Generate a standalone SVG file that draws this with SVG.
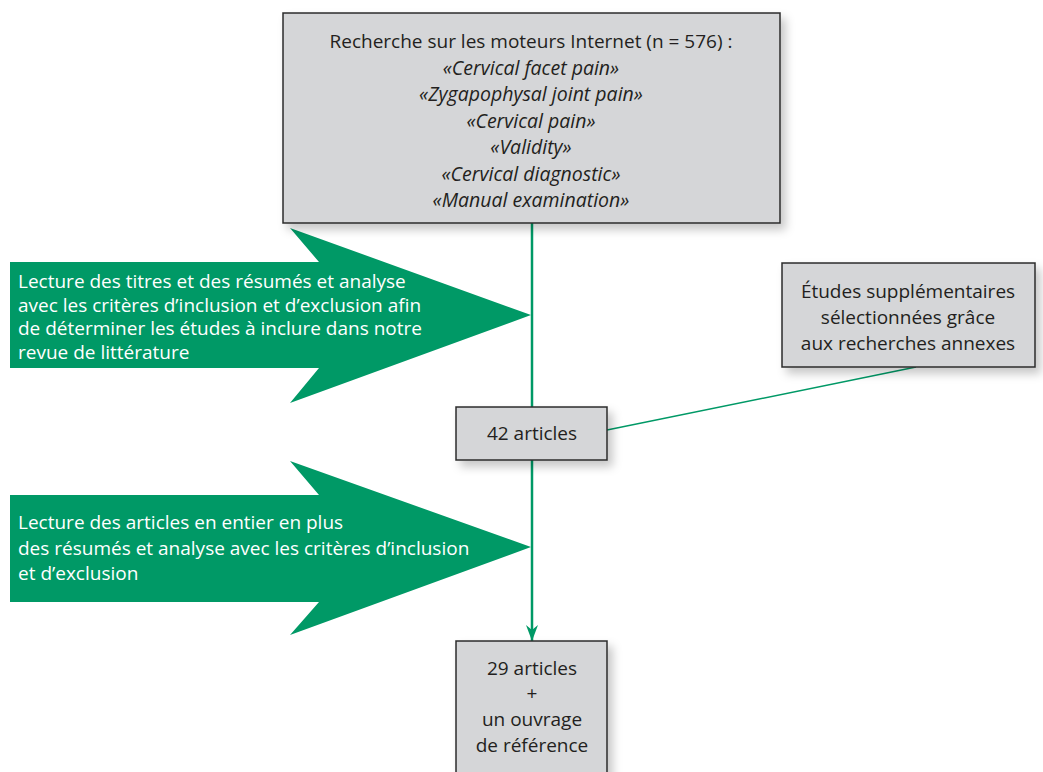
<svg xmlns="http://www.w3.org/2000/svg" width="1043" height="772" viewBox="0 0 1043 772">
<defs>
<style>
.box{fill:#d5d6d8;stroke:#2b2b2b;stroke-width:1.5;filter:url(#sh)}
.t{font-family:"Open Sans","Liberation Sans",sans-serif;font-size:19px;fill:#231f20;text-anchor:middle}
.i{font-style:italic;font-size:19.5px}
.w{font-family:"Open Sans","Liberation Sans",sans-serif;font-size:19px;fill:#ffffff}
.big{fill:#009966}
.con{stroke:#009966;fill:none}
</style>
<filter id="sh" x="-10%" y="-10%" width="130%" height="140%">
<feDropShadow dx="5" dy="6" stdDeviation="5" flood-color="#000" flood-opacity="0.22"/>
</filter>
<marker id="ah" viewBox="0 0 16 12" refX="16" refY="6" markerWidth="16" markerHeight="12" markerUnits="userSpaceOnUse" orient="auto">
<path d="M0,0 L16,6 L0,12 L5,6 Z" fill="#009966"/>
</marker>
</defs>
<g id="arrow1">
<path class="big" d="M10,262 L319,262 L290,228 L531,315 L290,403 L319,368 L10,368 Z"/>
<text class="w" x="18" y="288">Lecture des titres et des résumés et analyse</text>
<text class="w" x="18" y="311.5">avec les critères d’inclusion et d’exclusion afin</text>
<text class="w" x="18" y="335">de déterminer les études à inclure dans notre</text>
<text class="w" x="18" y="358.5">revue de littérature</text>
</g>
<g id="arrow2">
<path class="big" d="M10,495 L319,495 L290,461 L531,547 L290,635 L319,602 L10,602 Z"/>
<text class="w" x="18" y="529">Lecture des articles en entier en plus</text>
<text class="w" x="18" y="554.5">des résumés et analyse avec les critères d’inclusion</text>
<text class="w" x="18" y="580">et d’exclusion</text>
</g>
<g id="connectors">
<line class="con" x1="532" y1="223" x2="532" y2="407" stroke-width="2.5"/>
<line class="con" x1="532" y1="460" x2="532" y2="641" stroke-width="2.5" marker-end="url(#ah)"/>
<line class="con" x1="607" y1="430" x2="916" y2="367" stroke-width="1.5"/>
</g>
<g id="search">
<rect class="box" x="283" y="13" width="497" height="210"/>
<text class="t" x="531" y="48">Recherche sur les moteurs Internet (n = 576) :</text>
<text class="t i" x="531" y="74.5">«Cervical facet pain»</text>
<text class="t i" x="531" y="101">«Zygapophysal joint pain»</text>
<text class="t i" x="531" y="127.5">«Cervical pain»</text>
<text class="t i" x="531" y="154">«Validity»</text>
<text class="t i" x="531" y="180.5">«Cervical diagnostic»</text>
<text class="t i" x="531" y="207">«Manual examination»</text>
</g>
<g id="extra">
<rect class="box" x="782" y="263" width="253" height="104"/>
<text class="t" x="908" y="298">Études supplémentaires</text>
<text class="t" x="908" y="324">sélectionnées grâce</text>
<text class="t" x="908" y="350">aux recherches annexes</text>
</g>
<g id="n42">
<rect class="box" x="456" y="407" width="151" height="53"/>
<text class="t" x="532" y="440">42 articles</text>
</g>
<g id="n29">
<rect class="box" x="456" y="641" width="151" height="145"/>
<text class="t" x="532" y="675">29 articles</text>
<text class="t" x="532" y="700">+</text>
<text class="t" x="532" y="726">un ouvrage</text>
<text class="t" x="532" y="752">de référence</text>
</g>
</svg>
